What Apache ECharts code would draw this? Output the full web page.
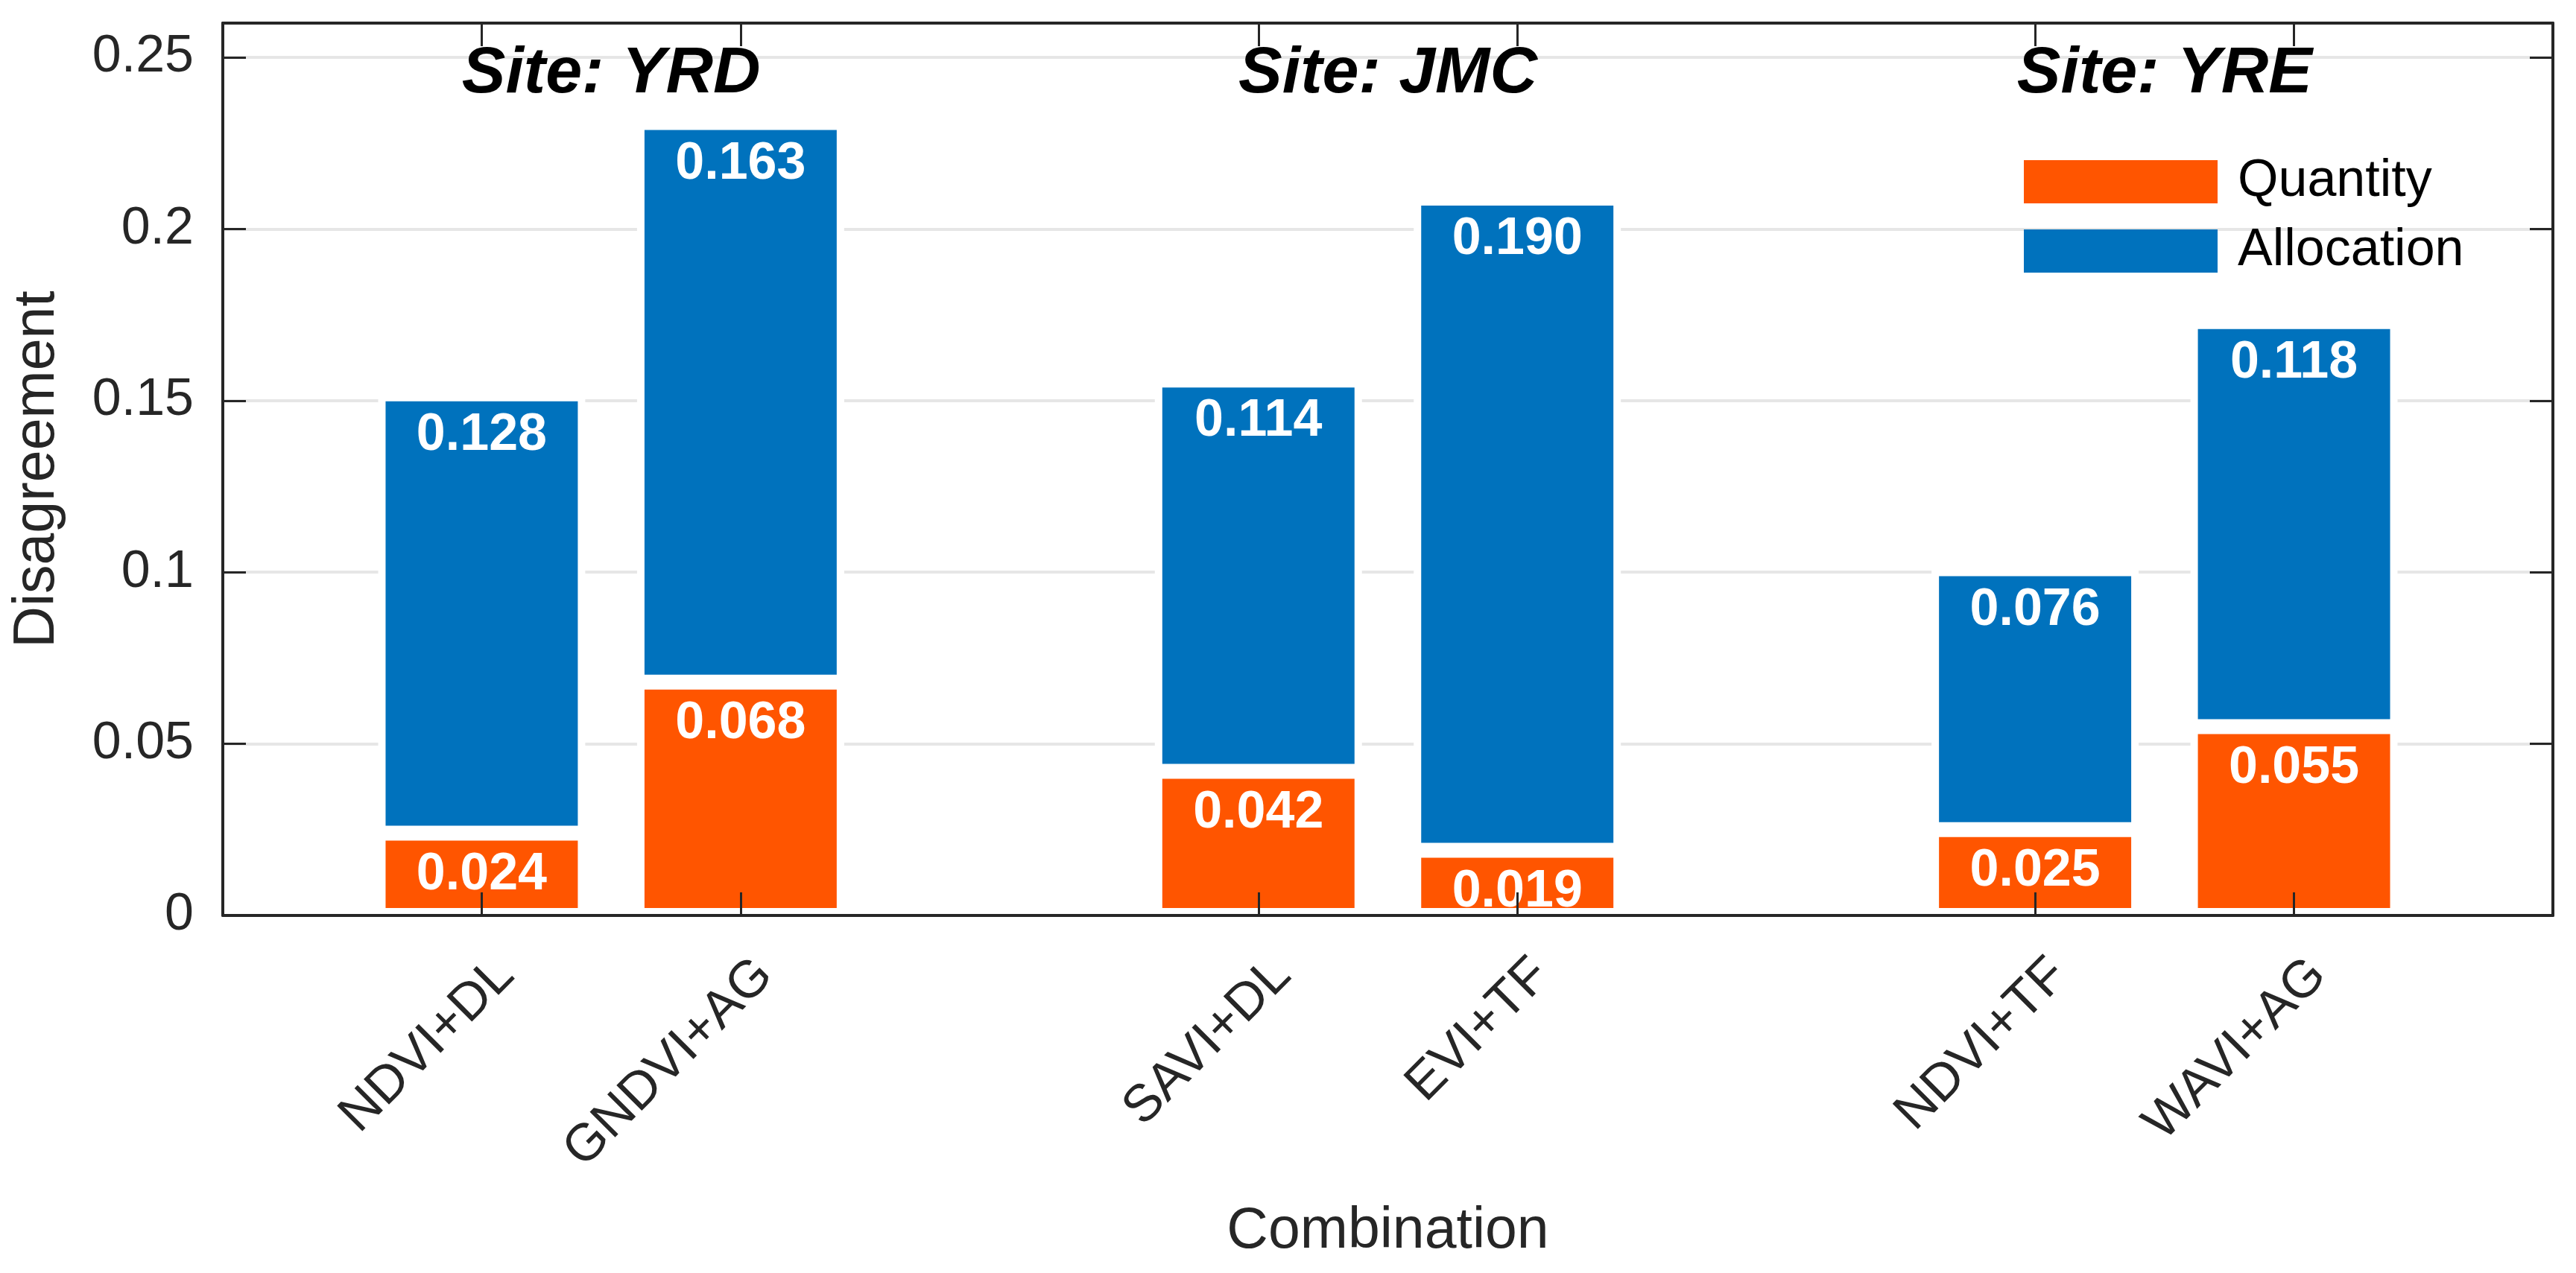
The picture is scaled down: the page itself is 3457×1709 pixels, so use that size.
<!DOCTYPE html>
<html><head><meta charset="utf-8">
<script src="https://cdn.jsdelivr.net/npm/echarts@6/dist/echarts.min.js"></script>
<style>html,body{margin:0;padding:0;background:#fff}#c{width:3457px;height:1709px}</style>
</head><body><div id="c"></div>
<script>
// ---- data ----
const sites = ['YRD', 'JMC', 'YRE'];
const combinations = ['NDVI+DL', 'GNDVI+AG', 'SAVI+DL', 'EVI+TF', 'NDVI+TF', 'WAVI+AG'];
const quantity = [0.024, 0.068, 0.042, 0.019, 0.025, 0.055];
const allocation = [0.128, 0.163, 0.114, 0.190, 0.076, 0.118];
const yMin = 0, yMax = 0.26, yInterval = 0.05;
const seriesNames = ['Quantity', 'Allocation'];
const colors = ['#FF5500', '#0072BD'];

// ---- build slots: one empty slot before, between and after the site groups ----
const categories = [''];
const qData = [null], aData = [null];
sites.forEach((s, i) => {
  for (let k = 0; k < 2; k++) {
    const j = i * 2 + k;
    categories.push(combinations[j]);
    qData.push(quantity[j]);
    aData.push(allocation[j]);
  }
  categories.push(''); qData.push(null); aData.push(null);
});

const FONT = '"Liberation Sans", Arial, Helvetica, sans-serif';
const AX = '#262626';
const notBlank = (idx, val) => val !== '';

const chart = echarts.init(document.getElementById('c'));
const labelCfg = {
  show: true, position: 'insideTop', distance: 21, color: '#fff',
  fontSize: 70, fontWeight: 'bold', fontFamily: FONT,
  formatter: p => (p.value == null ? '' : Number(p.value).toFixed(3))
};
chart.setOption({
  animation: false,
  backgroundColor: '#fff',
  grid: { left: 299, right: 31, top: 31, bottom: 480, containLabel: false },
  legend: {
    orient: 'vertical', left: 2716, top: 209, padding: 0,
    itemWidth: 260, itemHeight: 58, itemGap: 23, icon: 'rect',
    itemStyle: { borderWidth: 0 },
    textStyle: { fontSize: 70, color: '#000', fontFamily: FONT, padding: [0, 0, 0, 22] },
    data: seriesNames
  },
  xAxis: [{
    type: 'category', data: categories, boundaryGap: false, position: 'bottom', z: 5,
    name: 'Combination', nameLocation: 'middle', nameGap: 386,
    nameTextStyle: { fontSize: 77, color: AX, fontFamily: FONT },
    axisLine: { onZero: false, lineStyle: { color: AX, width: 4 } },
    axisTick: { inside: true, length: 31, interval: notBlank, lineStyle: { color: AX, width: 3 } },
    axisLabel: { interval: notBlank, rotate: 45, margin: 37, verticalAlign: 'top', lineHeight: 92,
      fontSize: 70, color: AX, fontFamily: FONT },
    splitLine: { show: false }
  }, {
    type: 'category', data: categories, boundaryGap: false, position: 'top', z: 5,
    axisLine: { onZero: false, lineStyle: { color: AX, width: 4 } },
    axisTick: { inside: true, length: 31, interval: notBlank, lineStyle: { color: AX, width: 3 } },
    axisLabel: { show: false }, splitLine: { show: false }
  }],
  yAxis: [{
    type: 'value', min: yMin, max: yMax, interval: yInterval, position: 'left',
    name: 'Disagreement', nameLocation: 'middle', nameGap: 210,
    nameTextStyle: { fontSize: 77, color: AX, fontFamily: FONT },
    axisLine: { show: true, lineStyle: { color: AX, width: 4 } },
    axisTick: { show: true, inside: true, length: 31, lineStyle: { color: AX, width: 3 } },
    axisLabel: { margin: 39, fontSize: 70, color: AX, fontFamily: FONT, showMaxLabel: false },
    splitLine: { show: true, lineStyle: { color: '#E6E6E6', width: 4 } }
  }, {
    type: 'value', min: yMin, max: yMax, interval: yInterval, position: 'right',
    axisLine: { show: true, lineStyle: { color: AX, width: 4 } },
    axisTick: { show: true, inside: true, length: 31, lineStyle: { color: AX, width: 3 } },
    axisLabel: { show: false }, splitLine: { show: false }
  }],
  series: [{
    name: seriesNames[0], type: 'bar', stack: 'total', data: qData, barWidth: '80%',
    itemStyle: { color: colors[0], borderColor: '#fff', borderWidth: 10 },
    label: labelCfg
  }, {
    name: seriesNames[1], type: 'bar', stack: 'total', data: aData, barWidth: '80%',
    itemStyle: { color: colors[1], borderColor: '#fff', borderWidth: 10 },
    label: labelCfg
  }]
});

// site titles centred over each pair of bars
const siteLabelValue = 0.245;
const yPix = chart.convertToPixel({ yAxisIndex: 0 }, siteLabelValue);
chart.setOption({
  graphic: sites.map((s, i) => {
    const x = (chart.convertToPixel({ xAxisIndex: 0 }, 1 + 3 * i) +
               chart.convertToPixel({ xAxisIndex: 0 }, 2 + 3 * i)) / 2;
    return {
      type: 'text', x: x, y: yPix, z: 10,
      style: { text: 'Site: ' + s, fontSize: 88, fontWeight: 'bold', fontStyle: 'italic',
        fontFamily: FONT, fill: '#000', align: 'center', verticalAlign: 'middle' }
    };
  })
});
</script></body></html>
